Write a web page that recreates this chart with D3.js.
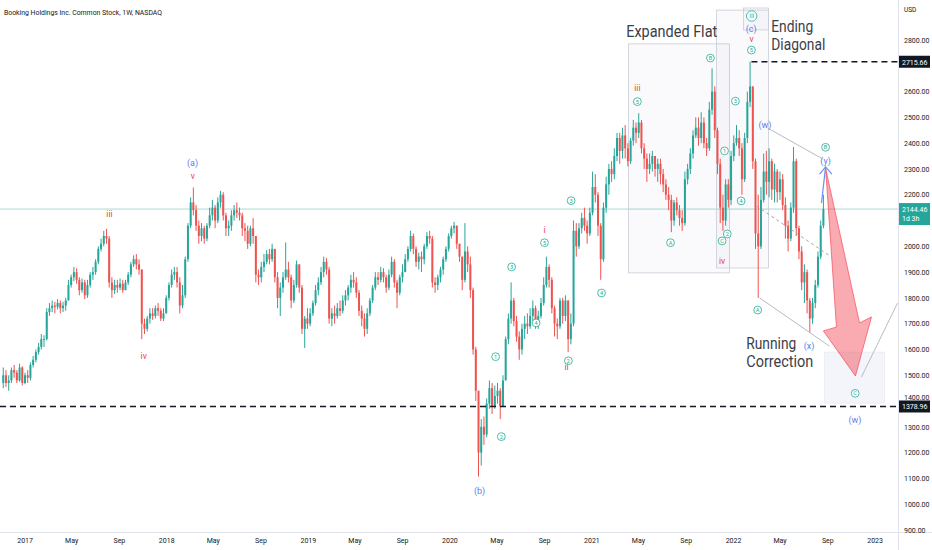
<!DOCTYPE html>
<html>
<head>
<meta charset="utf-8">
<script src="https://cdn.jsdelivr.net/npm/d3@7"></script>
<style>
  body { margin: 0; background: #fff; }
  svg { display: block; font-family: Roboto, "Liberation Sans", sans-serif; }
</style>
</head>
<body>
<svg id="chart" width="932" height="550"></svg>
<script>
// weekly candles, first bar = week of 2016-11-07
var firstWeek = new Date(2016, 10, 7);
var firstOpen = 1470;

var closes = [
  1500,1470,1480,1520,1510,1480,1530,1470,1500,
  1490,1540,1560,1590,1610,1640,1640,
  1745,1760,1770,1765,1780,1760,1770,1790,1850,1880,
  1900,1870,1830,1860,1810,1850,1890,1900,1940,1990,2010,2040,2030,
  1860,1830,1850,1840,1855,1830,1860,1890,1930,1950,1930,1910,
  1700,1680,1720,1740,1730,1760,1750,1720,1740,1800,
  1850,1890,1900,1860,1770,1810,1950,2080,2170,
  2140,2080,2040,2070,2030,2080,2120,2150,2100,2170,
  2200,2120,2070,2080,2120,2140,2130,2120,2070,2060,2010,2070,2040,
  1890,1880,1920,1940,1970,1950,1990,1880,1800,1840,1880,
  1910,1880,1790,1850,1930,1840,1680,1720,
  1700,1740,1780,1830,1860,1900,1940,1910,
  1720,1740,1730,1760,1750,1790,1810,1840,1870,1860,1820,
  1750,1720,1680,1740,1790,1840,1880,1870,1900,1880,1840,1890,
  1940,1860,1820,1880,1900,1950,1990,2040,1990,1940,1960,1950,2000,2040,2030,
  1860,1850,1880,1910,1950,1990,2040,2070,2080,
  2010,1960,1870,1980,1930,1830,1600,1440,1200,
  1300,1270,1390,1450,1380,1420,1440,1380,1480,
  1640,1720,1790,1710,1650,1600,1680,1700,1690,1730,1760,1700,1730,
  1780,1850,1920,1870,1760,1700,1690,1790,1730,1790,1640,1700,
  2060,2000,2070,2110,2080,2050,2130,
  2230,2200,2080,1950,2150,2240,2300,2280,2350,2420,
  2370,2430,2380,2330,2410,2460,2440,2480,
  2380,2340,2300,2320,2350,2300,2320,2280,2240,2200,2180,2100,
  2170,2140,2110,2090,2260,2300,2360,2430,2460,2420,2480,2400,2380,2530,2600,
  2450,2320,2150,2100,2240,2180,2350,2400,2420,2380,2260,2420,2560,2620,
  2330,2050,2000,2180,2290,2250,2330,2220,2290,2210,2260,2160,2080,2030,2150,
  2330,2070,1980,1860,1900,1790,1720,1780,1850,1960,2080,2144.46
];

var highs = [
  1530,1520,1500,1530,1540,1520,1545,1535,1510,
  1520,1550,1575,1600,1625,1660,1655,
  1760,1780,1790,1785,1795,1790,1785,1800,1870,1890,
  1920,1915,1880,1875,1870,1870,1900,1920,1950,2000,2030,2060,2068,
  2040,1880,1870,1870,1875,1870,1870,1900,1940,1965,1970,1950,
  1910,1720,1730,1760,1760,1770,1780,1760,1760,1810,
  1860,1910,1920,1920,1880,1850,1960,2090,2190,
  2228,2160,2100,2090,2080,2090,2150,2180,2160,2190,
  2215,2210,2130,2100,2140,2160,2170,2150,2130,2090,2080,2080,2110,
  2040,1910,1940,1970,1985,1990,2010,1990,1900,1860,1900,
  2015,1940,1890,1870,1945,1930,1850,1730,
  1760,1760,1790,1850,1880,1920,1960,1955,
  1920,1760,1770,1780,1790,1810,1830,1850,1890,1900,1880,
  1830,1770,1740,1760,1800,1850,1900,1900,1920,1915,1890,1910,
  1960,1950,1870,1890,1930,1970,2000,2060,2050,2000,1975,1980,2010,2055,2060,
  2040,1880,1890,1920,1960,2000,2050,2080,2095,
  2080,2010,1960,2090,2000,1960,1840,1610,1440,
  1330,1340,1410,1480,1470,1460,1470,1450,1500,
  1650,1740,1860,1800,1730,1670,1700,1730,1740,1760,1790,1770,1750,
  1800,1880,1960,1930,1880,1770,1720,1800,1800,1810,1790,1740,
  2100,2090,2090,2130,2150,2100,2150,
  2290,2280,2210,2090,2170,2270,2320,2330,2380,2440,
  2440,2460,2470,2400,2420,2490,2480,2516,
  2490,2400,2360,2360,2370,2350,2340,2340,2300,2260,2230,2200,
  2180,2190,2160,2140,2290,2320,2380,2450,2500,2500,2520,2500,2420,2560,2690,
  2620,2460,2340,2200,2260,2260,2370,2430,2470,2450,2400,2440,2600,2716,
  2620,2340,2200,2230,2360,2370,2380,2340,2320,2300,2290,2280,2190,2100,2170,
  2385,2340,2080,2000,1930,1910,1800,1800,1870,1980,2100,2200
];

var lows = [
  1450,1455,1440,1470,1490,1470,1475,1460,1465,
  1470,1480,1530,1550,1580,1600,1610,
  1635,1730,1745,1740,1755,1740,1745,1750,1790,1840,
  1865,1855,1810,1820,1795,1800,1840,1870,1890,1930,1980,2000,2010,
  1840,1800,1815,1820,1830,1820,1830,1850,1880,1920,1910,1890,
  1640,1660,1670,1700,1715,1720,1730,1710,1710,1740,
  1790,1840,1870,1840,1740,1760,1800,1940,2070,
  2120,2060,2010,2020,2010,2020,2070,2100,2070,2090,
  2150,2100,2040,2040,2060,2100,2110,2100,2040,2020,1990,2000,2010,
  1860,1850,1860,1900,1930,1930,1940,1860,1760,1730,1820,
  1870,1860,1760,1780,1840,1820,1660,1606,
  1680,1690,1730,1770,1810,1850,1880,1890,
  1700,1690,1700,1720,1730,1740,1770,1790,1820,1840,1800,
  1730,1690,1650,1660,1730,1780,1830,1850,1860,1860,1820,1830,
  1880,1840,1760,1810,1860,1900,1940,1980,1970,1920,1910,1900,1930,1990,2010,
  1840,1820,1830,1860,1890,1940,1980,2030,2050,
  1990,1940,1830,1860,1900,1800,1580,1400,1107,
  1150,1230,1260,1370,1350,1370,1390,1330,1380,
  1480,1620,1700,1690,1630,1560,1580,1640,1660,1680,1710,1680,1680,
  1720,1770,1840,1840,1740,1650,1640,1680,1700,1710,1590,1620,
  1690,1960,1990,2050,2060,2010,2040,
  2120,2170,2040,1870,1940,2130,2200,2250,2260,2330,
  2320,2340,2340,2310,2320,2390,2400,2420,
  2360,2300,2250,2280,2290,2270,2250,2240,2210,2180,2140,2055,
  2080,2120,2080,2060,2080,2240,2280,2340,2420,2390,2400,2380,2350,2370,2510,
  2420,2280,2090,2060,2080,2150,2160,2330,2390,2350,2200,2250,2400,2540,
  2300,1990,1800,1990,2170,2200,2190,2180,2170,2170,2180,2140,2030,1980,2020,
  2130,2040,1950,1830,1780,1740,1665,1700,1760,1840,1950,2070
];

var lastPrice = 2144.46;
var athLevel = 2715.66;
var supportLevel = 1378.96;
var priceTicks = d3.range(900, 2801, 100);
var yearTicks = d3.range(2017, 2024);
var monthTicks = [4, 8]; // May, Sep

// wave labels: [week index, price, text]
var greenWaves = [
  [209.1, 2177, "3"], [199.3, 2014, "5"], [187.2, 1920, "3"], [196.2, 1703, "4"],
  [208.1, 1556, "2"], [181.3, 1572, "1"], [183.4, 1262, "2"], [220.3, 1819, "4"],
  [233.5, 2561, "5"], [245.7, 2014, "A"], [260.4, 2730, "B"], [269.6, 2563, "3"],
  [265.6, 2370, "1"], [264.7, 2021, "C"], [266.6, 2048, "2"], [271.7, 2176, "4"],
  [275.5, 2761, "5"], [277.8, 1753, "A"], [302.8, 2384, "B"], [313.7, 1430, "C"]
];
var redWaves = [
  [39.1, 2125, "iii"], [51.7, 1575, "iv"], [69.8, 2272, "v"], [199.3, 2062, "i"],
  [207.4, 1533, "ii"], [233.5, 2613, "iii"], [264.7, 1943, "iv"], [275.5, 2804, "v"]
];
var blueWaves = [
  [69.7, 2322, "(a)"], [175.4, 1052, "(b)"], [275.4, 2842, "(c)"], [280.5, 2473, "(w)"],
  [302.8, 2333, "(y)"], [296.7, 1615, "(x)"], [313.6, 1327, "(w)"]
];
var notes = [
  [229.4, 2812, "Expanded Flat", 91],
  [282.8, 2832, "Ending", 42],
  [282.8, 2761, "Diagonal", 54],
  [273.6, 1601, "Running", 50],
  [273.6, 1531, "Correction", 67]
];
// boxes: [i0, i1, pTop, pBottom]
var boxes = [
  [230.2, 267.4, 2785, 1897],
  [262.6, 281.8, 2916, 1916],
  [272.6, 281.8, 2924, 2839]
];
var cBox = [302.4, 324.5, 1590, 1392];
var trendLines = [
  [281.4, 2459, 301.7, 2339],
  [278.5, 1800, 304.2, 1613],
  [316.0, 1493, 329.3, 1780]
];
var midLine = [277.4, 2156, 304.9, 1959];
var blueArrow = [[301.3, 2168], [302.8, 2308]];
var blueHead = [[300.6, 2280], [302.8, 2308], [305.1, 2280]];
var redArrow = [[302.8, 2304], [306.8, 1687], [302.0, 1672], [313.8, 1497], [319.7, 1726], [315.3, 1703]];

var W = 932, H = 550, plotR = 898, plotB = 532;
var up = "#26a69a", down = "#ef5350";

var candles = closes.map(function(c, i){
  var o = i == 0 ? firstOpen : closes[i-1];
  return {
    i: i,
    o: o,
    c: c,
    h: Math.max(highs[i], o, c),
    l: Math.min(lows[i], o, c)
  };
});

function weekDate(i){ return new Date(firstWeek.getTime() + i * 7 * 864e5); }

var x = d3.scaleTime()
  .domain([new Date(2017, 0, 2), new Date(2023, 0, 2)])
  .range([25, 875]);
var y = d3.scaleLinear().domain([900, 2800]).range([530, 40]);
function xi(i){ return x(weekDate(i)); }

var svg = d3.select("#chart");
svg.append("rect").attr("width", W).attr("height", H).attr("fill", "#fff");

svg.append("defs").append("clipPath").attr("id", "plot")
  .append("rect").attr("width", plotR).attr("height", plotB);

var g = svg.append("g").attr("clip-path", "url(#plot)");

// last price line
g.append("line")
  .attr("x1", 0).attr("x2", plotR)
  .attr("y1", y(lastPrice)).attr("y2", y(lastPrice))
  .attr("stroke", "#a8dad5").attr("stroke-width", 1);

// boxes
boxes.forEach(function(b){
  g.append("rect")
    .attr("x", xi(b[0])).attr("y", y(b[2]))
    .attr("width", xi(b[1]) - xi(b[0])).attr("height", y(b[3]) - y(b[2]))
    .attr("fill", "rgba(120,140,180,0.04)")
    .attr("stroke", "#c9ccd6").attr("stroke-width", 0.8);
});
g.append("rect")
  .attr("x", xi(cBox[0])).attr("y", y(cBox[2]))
  .attr("width", xi(cBox[1]) - xi(cBox[0])).attr("height", y(cBox[3]) - y(cBox[2]))
  .attr("fill", "rgba(190,200,225,0.18)")
  .attr("stroke", "rgba(200,205,220,0.4)").attr("stroke-width", 0.6);

// candles
var cg = g.append("g");
cg.selectAll(".wick").data(candles).enter().append("line")
  .attr("class", "wick")
  .attr("x1", function(d){ return xi(d.i); })
  .attr("x2", function(d){ return xi(d.i); })
  .attr("y1", function(d){ return y(d.h); })
  .attr("y2", function(d){ return y(d.l); })
  .attr("stroke", function(d){ return d.c >= d.o ? up : down; })
  .attr("stroke-width", 1);

cg.selectAll(".body").data(candles).enter().append("rect")
  .attr("class", "body")
  .attr("x", function(d){ return xi(d.i) - 1; })
  .attr("width", 2)
  .attr("y", function(d){ return y(Math.max(d.o, d.c)); })
  .attr("height", function(d){ return Math.max(0.8, Math.abs(y(d.o) - y(d.c))); })
  .attr("fill", function(d){ return d.c >= d.o ? up : down; });

// dashed levels
g.append("line")
  .attr("x1", xi(275.5)).attr("x2", plotR)
  .attr("y1", y(athLevel)).attr("y2", y(athLevel))
  .attr("stroke", "#131722").attr("stroke-width", 1.4).attr("stroke-dasharray", "6,4");
g.append("line")
  .attr("x1", 0).attr("x2", plotR)
  .attr("y1", y(supportLevel)).attr("y2", y(supportLevel))
  .attr("stroke", "#131722").attr("stroke-width", 1.4).attr("stroke-dasharray", "6,4");

// trend lines
trendLines.forEach(function(t){
  g.append("line")
    .attr("x1", xi(t[0])).attr("y1", y(t[1]))
    .attr("x2", xi(t[2])).attr("y2", y(t[3]))
    .attr("stroke", "#b8bbc6").attr("stroke-width", 1);
});
g.append("line")
  .attr("x1", xi(midLine[0])).attr("y1", y(midLine[1]))
  .attr("x2", xi(midLine[2])).attr("y2", y(midLine[3]))
  .attr("stroke", "#9598a1").attr("stroke-width", 0.9).attr("stroke-dasharray", "3,3");

// red projection arrow
g.append("polygon")
  .attr("points", redArrow.map(function(p){ return xi(p[0]) + "," + y(p[1]); }).join(" "))
  .attr("fill", "rgba(242,54,69,0.42)")
  .attr("stroke", "rgba(242,54,69,0.6)").attr("stroke-width", 1);

// blue arrow
var pl = d3.line().x(function(p){ return xi(p[0]); }).y(function(p){ return y(p[1]); });
g.append("path").attr("d", pl(blueArrow)).attr("fill", "none")
  .attr("stroke", "#6a8ff0").attr("stroke-width", 1.2);
g.append("path").attr("d", pl(blueHead)).attr("fill", "none")
  .attr("stroke", "#6a8ff0").attr("stroke-width", 1.2);

// wave labels
var lg = svg.append("g");
greenWaves.forEach(function(w){
  var cx = xi(w[0]), cy = y(w[1]);
  lg.append("circle").attr("cx", cx).attr("cy", cy).attr("r", 3.9)
    .attr("fill", "#fff").attr("stroke", "#22ab94").attr("stroke-width", 0.8);
  lg.append("text").attr("x", cx).attr("y", cy + 2)
    .attr("text-anchor", "middle").attr("font-size", 5.6)
    .attr("fill", "#22ab94").text(w[2]);
});
// circled iii at the top
var t3x = xi(275.6), t3y = y(2893);
lg.append("circle").attr("cx", t3x).attr("cy", t3y).attr("r", 5.2)
  .attr("fill", "#fff").attr("stroke", "#22ab94").attr("stroke-width", 0.8);
lg.append("text").attr("x", t3x).attr("y", t3y + 2.3)
  .attr("text-anchor", "middle").attr("font-size", 6.5)
  .attr("fill", "#22ab94").text("iii");

redWaves.forEach(function(w){
  lg.append("text").attr("x", xi(w[0])).attr("y", y(w[1]) + 3)
    .attr("text-anchor", "middle").attr("font-size", 8.5)
    .attr("fill", "#e8434f").text(w[2]);
});
blueWaves.forEach(function(w){
  lg.append("text").attr("x", xi(w[0])).attr("y", y(w[1]) + 3.2)
    .attr("text-anchor", "middle").attr("font-size", 9)
    .attr("fill", "#5a80ee").text(w[2]);
});
notes.forEach(function(n){
  lg.append("text").attr("x", xi(n[0])).attr("y", y(n[1]))
    .attr("font-size", 16).attr("fill", "#3b3e48")
    .attr("textLength", n[3]).attr("lengthAdjust", "spacingAndGlyphs")
    .text(n[2]);
});

// title
svg.append("text").attr("x", 4).attr("y", 14.5)
  .attr("font-size", 8).attr("fill", "#131722")
  .attr("textLength", 158).attr("lengthAdjust", "spacingAndGlyphs")
  .text("Booking Holdings Inc. Common Stock, 1W, NASDAQ");

// axes frame
svg.append("line").attr("x1", plotR + 0.5).attr("x2", plotR + 0.5).attr("y1", 0).attr("y2", H)
  .attr("stroke", "#e0e3eb");
svg.append("line").attr("x1", 0).attr("x2", W).attr("y1", plotB + 0.5).attr("y2", plotB + 0.5)
  .attr("stroke", "#e0e3eb");

// bottom axis
var timeTicks = [];
yearTicks.forEach(function(yr){
  timeTicks.push(new Date(yr, 0, 1));
  if (yr < 2023) monthTicks.forEach(function(m){ timeTicks.push(new Date(yr, m, 1)); });
});
var xAxis = d3.axisBottom(x).tickValues(timeTicks).tickSize(0).tickPadding(6)
  .tickFormat(function(d){ return d.getMonth() == 0 ? d3.timeFormat("%Y")(d) : d3.timeFormat("%b")(d); });
var xa = svg.append("g").attr("transform", "translate(0," + plotB + ")").call(xAxis);
xa.select(".domain").remove();
xa.selectAll("text").attr("font-size", 7).attr("fill", "#131722")
  .attr("font-family", "Roboto, sans-serif");

// right axis (labels hidden behind the price tags are left out, 1400 sits half under its tag)
var yAxis = d3.axisRight(y)
  .tickValues(priceTicks.filter(function(p){ return p != 2700 && p != 2100; }))
  .tickSize(0).tickPadding(6).tickFormat(d3.format(".2f"));
var ya = svg.append("g").attr("transform", "translate(" + plotR + ",0)").call(yAxis);
ya.select(".domain").remove();
ya.selectAll("text").attr("font-size", 7).attr("fill", "#131722")
  .attr("font-family", "Roboto, sans-serif");
ya.selectAll(".tick").filter(function(d){ return d == 1400; })
  .select("text").attr("dy", "-0.2em");

svg.append("text").attr("x", 904).attr("y", 12).attr("font-size", 6.5)
  .attr("fill", "#131722").text("USD");

// price tags
function tag(price, fill, lines){
  var h = lines.length == 1 ? 12 : 22;
  var top = y(price) - 6;
  svg.append("rect").attr("x", plotR + 1).attr("y", top).attr("width", 31).attr("height", h)
    .attr("fill", fill);
  lines.forEach(function(t, k){
    svg.append("text").attr("x", plotR + 4).attr("y", top + 8.8 + k * 9.5)
      .attr("font-size", 7).attr("fill", "#fff").text(t);
  });
}
tag(athLevel, "#131722", [d3.format(".2f")(athLevel)]);
tag(supportLevel, "#131722", [d3.format(".2f")(supportLevel)]);
tag(lastPrice, "#26a69a", [d3.format(".2f")(lastPrice), "1d 3h"]);
</script>
</body>
</html>
